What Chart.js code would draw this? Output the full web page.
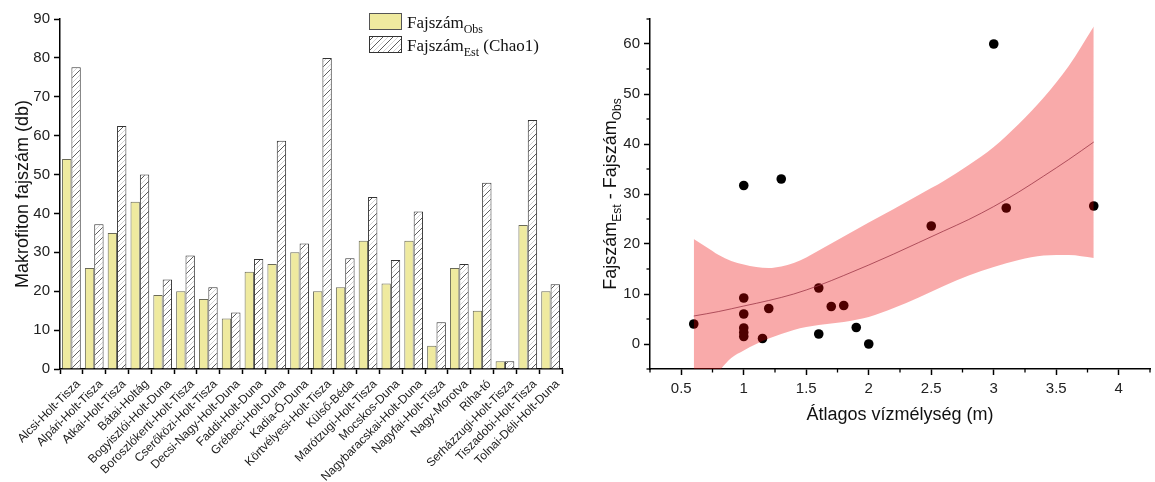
<!DOCTYPE html>
<html>
<head>
<meta charset="utf-8">
<title>Makrofiton fajszám</title>
<script src="https://cdn.jsdelivr.net/npm/chart.js@4.4.1/dist/chart.umd.min.js"></script>
<style>
  html, body { margin: 0; padding: 0; background: #fff; overflow: hidden; }
  #wrap { position: relative; width: 1155px; height: 482px; }
  #barBox { position: absolute; left: 0; top: 0; width: 580px; height: 482px; }
  #scBox { position: absolute; left: 580px; top: 0; width: 575px; height: 482px; }
</style>
</head>
<body>
<div id="wrap">
  <div id="barBox"><canvas id="bars" width="580" height="482"></canvas></div>
  <div id="scBox"><canvas id="scatter" width="575" height="482"></canvas></div>
</div>
<script>
// ---- Fajszám per holtág ----
const lakes = [
  'Alcsi-Holt-Tisza', 'Alpári-Holt-Tisza', 'Atkai-Holt-Tisza', 'Bátai-Holtág',
  'Bogyiszlói-Holt-Duna', 'Boroszlókerti-Holt-Tisza', 'Cserőközi-Holt-Tisza',
  'Decsi-Nagy-Holt-Duna', 'Faddi-Holt-Duna', 'Grébeci-Holt-Duna', 'Kadia-Ő-Duna',
  'Körtvélyesi-Holt-Tisza', 'Külső-Béda', 'Marótzugi-Holt-Tisza', 'Mocskos-Duna',
  'Nagybaracskai-Holt-Duna', 'Nagyfai-Holt-Tisza', 'Nagy-Morotva', 'Riha-tó',
  'Serházzugi-Holt-Tisza', 'Tiszadobi-Holt-Tisza', 'Tolnai-Déli-Holt-Duna'
];
const obsSpecies = [54, 26, 35, 43, 19, 20, 18, 13, 25, 27, 30, 20, 21, 33, 22, 33, 6, 26, 15, 2, 37, 20];
const estSpecies = [77.6, 37.2, 62.5, 50, 23, 29.2, 21, 14.5, 28.3, 58.7, 32.3, 80, 28.5, 44.2, 28, 40.5, 12, 27, 47.9, 2, 64, 21.8];

// ---- Különbség az átlagos vízmélység függvényében ----
const depth = [0.6, 1.0, 1.0, 1.0, 1.0, 1.0, 1.0, 1.15, 1.2, 1.3, 1.6, 1.6, 1.7, 1.8, 1.9, 2.0, 2.5, 3.0, 3.1, 3.8];
const speciesGap = [4.0, 31.7, 9.2, 6.0, 3.2, 2.3, 1.5, 1.1, 7.1, 33.0, 11.2, 2.0, 7.5, 7.7, 3.3, 0.0, 23.6, 60.0, 27.2, 27.6];

// fitted curve and its confidence band
const fitX = [0.6, 0.8, 1.0, 1.2, 1.4, 1.6, 1.8, 2.0, 2.2, 2.4, 2.6, 2.8, 3.0, 3.2, 3.4, 3.6, 3.8];
const fitY = [5.6, 6.5, 7.6, 8.7, 10.0, 11.7, 13.7, 15.8, 18.0, 20.3, 22.6, 24.9, 27.5, 30.4, 33.6, 36.9, 40.4];
const bandX = [0.6, 0.7, 0.8, 0.9, 1.0, 1.1, 1.2, 1.3, 1.4, 1.5, 1.6, 1.8, 2.0, 2.2, 2.4, 2.6, 2.8, 3.0, 3.2, 3.4, 3.6, 3.8];
const bandUpper = [21.0, 19.4, 17.8, 16.6, 15.9, 15.4, 15.2, 15.5, 16.2, 17.3, 18.7, 21.5, 24.3, 27.0, 29.8, 32.6, 35.8, 39.4, 44.0, 49.3, 55.6, 63.5];
const bandLower = [-14, -9.5, -5.6, -2.8, -1.3, 0.0, 1.1, 2.0, 2.8, 3.4, 3.8, 4.4, 5.4, 7.2, 9.3, 11.6, 13.7, 15.4, 16.8, 17.7, 17.8, 17.2];

const SANS = "'Liberation Sans', Arial, sans-serif";
const SERIF = "'Liberation Serif', 'Times New Roman', serif";
const YELLOW = '#efea9f';

// diagonal hatch used for the Chao1 estimate bars
function makeHatch() {
  const s = 10;
  const c = document.createElement('canvas');
  c.width = s; c.height = s;
  const g = c.getContext('2d');
  g.fillStyle = '#fff';
  g.fillRect(0, 0, s, s);
  const diag = (off, color, w) => {
    g.strokeStyle = color; g.lineWidth = w;
    for (const k of [-s, 0, s]) {
      g.beginPath();
      g.moveTo(k + off, s);
      g.lineTo(k + off + s, 0);
      g.stroke();
    }
  };
  diag(0, '#4a4a4a', 0.9);
  diag(s / 2, '#c9c9c9', 0.8);
  return g.createPattern(c, 'repeat');
}
const hatch = makeHatch();

// short unlabeled ticks between labelled ones
const minorTicks = {
  id: 'minorTicks',
  afterDraw(chart) {
    const ctx = chart.ctx;
    ctx.save();
    ctx.strokeStyle = '#000';
    ctx.lineWidth = 1.3;
    for (const id of Object.keys(chart.scales)) {
      const sc = chart.scales[id];
      if (sc.type === 'category') continue;
      sc.ticks.forEach((t, i) => {
        if (t.label !== '') return;
        const p = sc.getPixelForTick(i);
        ctx.beginPath();
        if (sc.isHorizontal()) {
          ctx.moveTo(p, sc.top); ctx.lineTo(p, sc.top + 3.5);
        } else {
          ctx.moveTo(sc.right, p); ctx.lineTo(sc.right - 3.5, p);
        }
        ctx.stroke();
      });
    }
    ctx.restore();
  }
};

// text with subscripts: parts = [[text, isSub], ...]
function drawRich(ctx, parts, x, y, size, family, align) {
  const subSize = Math.round(size * 0.68);
  const widths = parts.map(([t, sub]) => {
    ctx.font = (sub ? subSize : size) + 'px ' + family;
    return ctx.measureText(t).width;
  });
  const total = widths.reduce((a, b) => a + b, 0);
  let cx = align === 'center' ? x - total / 2 : x;
  ctx.textAlign = 'left';
  ctx.textBaseline = 'alphabetic';
  parts.forEach(([t, sub], i) => {
    ctx.font = (sub ? subSize : size) + 'px ' + family;
    ctx.fillText(t, cx, y + (sub ? size * 0.28 : 0));
    cx += widths[i];
  });
}

const barDecor = {
  id: 'barDecor',
  afterDraw(chart) {
    const ctx = chart.ctx;
    const a = chart.chartArea;
    ctx.save();
    ctx.fillStyle = '#111';
    // y axis title
    ctx.translate(28, (a.top + a.bottom) / 2);
    ctx.rotate(-Math.PI / 2);
    drawRich(ctx, [['Makrofiton fajszám (db)', false]], 0, 0, 18, SANS, 'center');
    ctx.restore();

    // legend
    ctx.save();
    ctx.lineWidth = 1;
    ctx.fillStyle = YELLOW;
    ctx.fillRect(369.5, 13.5, 32, 16);
    ctx.strokeStyle = '#555';
    ctx.strokeRect(369.5, 13.5, 32, 16);
    ctx.fillStyle = hatch;
    ctx.fillRect(369.5, 36.5, 32, 16);
    ctx.strokeStyle = '#333';
    ctx.strokeRect(369.5, 36.5, 32, 16);
    ctx.fillStyle = '#111';
    drawRich(ctx, [['Fajszám', false], ['Obs', true]], 407, 28, 17, SERIF, 'left');
    drawRich(ctx, [['Fajszám', false], ['Est', true], [' (Chao1)', false]], 407, 51, 17, SERIF, 'left');
    ctx.restore();
  }
};

const scatterDecor = {
  id: 'scatterDecor',
  afterDraw(chart) {
    const ctx = chart.ctx;
    const a = chart.chartArea;
    ctx.save();
    ctx.fillStyle = '#111';
    ctx.translate(36, (a.top + a.bottom) / 2);
    ctx.rotate(-Math.PI / 2);
    drawRich(ctx, [['Fajszám', false], ['Est', true], [' - Fajszám', false], ['Obs', true]], 0, 0, 18, SANS, 'center');
    ctx.restore();
    ctx.save();
    ctx.fillStyle = '#111';
    drawRich(ctx, [['Átlagos vízmélység (m)', false]], (a.left + a.right) / 2, 420, 18, SANS, 'center');
    ctx.restore();
  }
};

const axisBorder = { display: true, color: '#000', width: 1.5 };

new Chart(document.getElementById('bars'), {
  type: 'bar',
  data: {
    labels: lakes,
    datasets: [
      {
        label: 'FajszámObs',
        data: obsSpecies,
        backgroundColor: YELLOW,
        borderColor: '#6a6a58',
        borderWidth: 1,
        categoryPercentage: 0.82,
        barPercentage: 1.0
      },
      {
        label: 'FajszámEst (Chao1)',
        data: estSpecies,
        backgroundColor: hatch,
        borderColor: '#333',
        borderWidth: 1,
        categoryPercentage: 0.82,
        barPercentage: 1.0
      }
    ]
  },
  options: {
    responsive: false,
    animation: false,
    devicePixelRatio: 1,
    layout: { padding: { top: 19, right: 18, left: 0, bottom: 0 } },
    plugins: { legend: { display: false }, tooltip: { enabled: false } },
    scales: {
      x: {
        border: axisBorder,
        grid: { drawOnChartArea: false, drawTicks: true, tickLength: 5, tickWidth: 1.5, tickColor: '#000' },
        ticks: {
          autoSkip: false, maxRotation: 45, minRotation: 45,
          font: { family: SANS, size: 12 }, color: '#1a1a1a', padding: 3, labelOffset: 7
        },
        afterFit(s) { s.height = 113; s.paddingLeft = 0; s.paddingRight = 0; }
      },
      y: {
        min: 0, max: 90,
        border: axisBorder,
        grid: {
          drawOnChartArea: false, drawTicks: true, tickLength: 6, tickWidth: 1.5,
          tickColor: (c) => (c.tick && c.tick.label === '' ? 'rgba(0,0,0,0)' : '#000')
        },
        ticks: {
          stepSize: 5, font: { family: SANS, size: 15 }, color: '#222', padding: 4,
          callback: (v) => (v % 10 === 0 ? String(v) : '')
        },
        afterFit(s) { s.width = 60; s.paddingTop = 0; s.paddingBottom = 0; }
      }
    }
  },
  plugins: [minorTicks, barDecor]
});

const fitPts = fitX.map((x, i) => ({ x, y: fitY[i] }));
const upperPts = bandX.map((x, i) => ({ x, y: bandUpper[i] }));
const lowerPts = bandX.map((x, i) => ({ x, y: bandLower[i] }));
const obsPts = depth.map((x, i) => ({ x, y: speciesGap[i] }));

new Chart(document.getElementById('scatter'), {
  type: 'scatter',
  data: {
    datasets: [
      {
        type: 'line', label: 'upper', data: upperPts, order: 1,
        borderWidth: 0, pointRadius: 0, fill: '+1',
        backgroundColor: 'rgba(238,0,0,0.335)', cubicInterpolationMode: 'monotone'
      },
      {
        type: 'line', label: 'lower', data: lowerPts, order: 2,
        borderWidth: 0, pointRadius: 0, fill: false, cubicInterpolationMode: 'monotone'
      },
      {
        type: 'line', label: 'fit', data: fitPts, order: 0,
        borderColor: '#9c3646', borderWidth: 0.8, pointRadius: 0, fill: false,
        cubicInterpolationMode: 'monotone'
      },
      {
        label: 'points', data: obsPts, order: 3,
        pointRadius: 4.8, backgroundColor: '#000', borderWidth: 0
      }
    ]
  },
  options: {
    responsive: false,
    animation: false,
    devicePixelRatio: 1,
    layout: { padding: { top: 19, right: 5, left: 0, bottom: 0 } },
    plugins: { legend: { display: false }, tooltip: { enabled: false } },
    scales: {
      x: {
        type: 'linear', min: 0.25, max: 4.25,
        border: axisBorder,
        grid: {
          drawOnChartArea: false, drawTicks: true, tickLength: 6, tickWidth: 1.5,
          tickColor: (c) => (c.tick && c.tick.label === '' ? 'rgba(0,0,0,0)' : '#000')
        },
        ticks: {
          stepSize: 0.25, autoSkip: false, maxRotation: 0,
          font: { family: SANS, size: 15 }, color: '#222', padding: 5,
          callback: (v) => (Math.abs(v * 2 - Math.round(v * 2)) < 1e-6 ? String(Math.round(v * 100) / 100) : '')
        },
        afterFit(s) { s.height = 113; s.paddingLeft = 0; s.paddingRight = 0; }
      },
      y: {
        min: -5, max: 65,
        border: axisBorder,
        grid: {
          drawOnChartArea: false, drawTicks: true, tickLength: 6, tickWidth: 1.5,
          tickColor: (c) => (c.tick && c.tick.label === '' ? 'rgba(0,0,0,0)' : '#000')
        },
        ticks: {
          stepSize: 5, font: { family: SANS, size: 15 }, color: '#222', padding: 4,
          callback: (v) => (v % 10 === 0 ? String(v) : '')
        },
        afterFit(s) { s.width = 70; s.paddingTop = 0; s.paddingBottom = 0; }
      }
    }
  },
  plugins: [minorTicks, scatterDecor]
});
</script>
</body>
</html>
